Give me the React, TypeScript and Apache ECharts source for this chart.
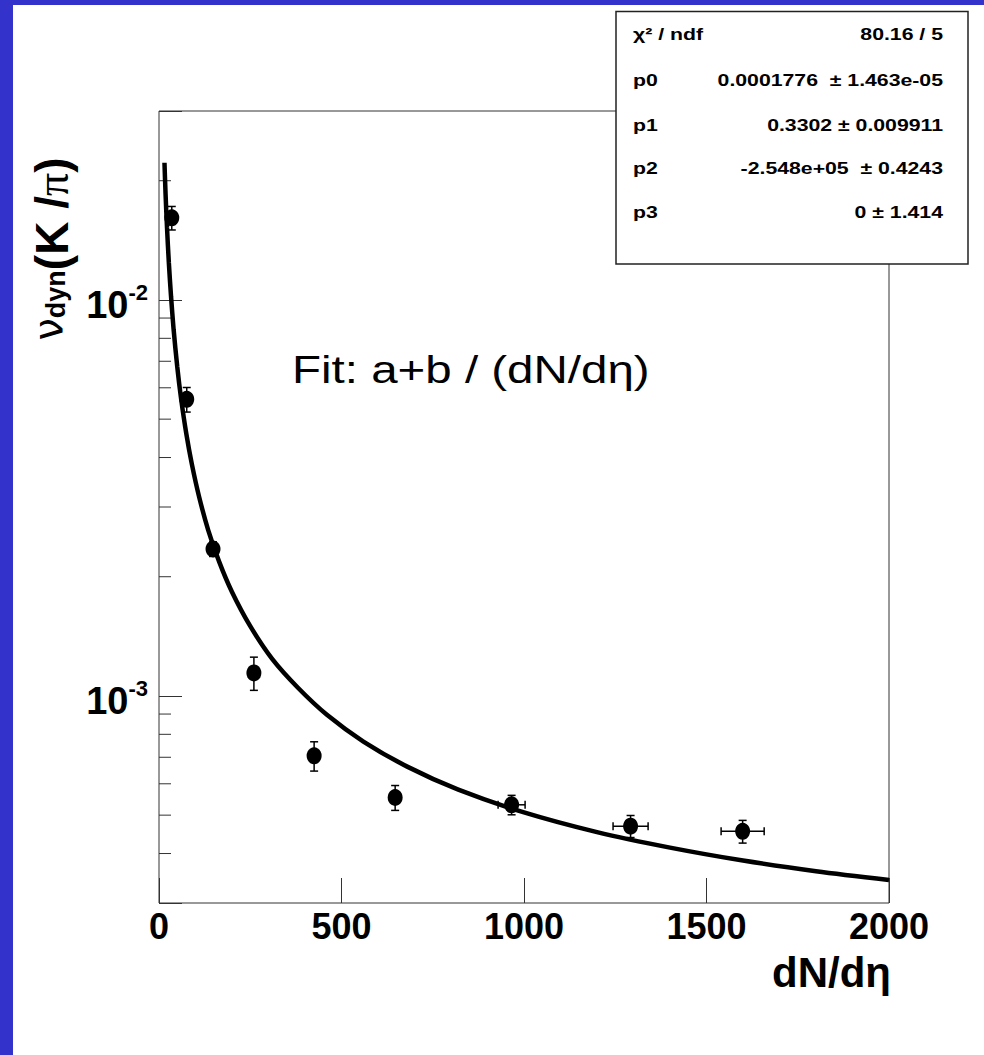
import React, { useEffect, useRef } from "react";
import * as echarts from "echarts";

// ---- data ----
const dndeta = [35, 76, 148, 260, 425, 647, 966, 1292, 1599];
const dndetaErr = [0, 0, 0, 0, 0, 0, 37, 48, 59];
const nuDyn = [0.01612, 0.00561, 0.00235, 0.001143, 0.000706, 0.000554, 0.000531, 0.000469, 0.000455];
const nuDynErr = [0.0011, 0.0004, 0.0001, 0.00011, 0.00006, 0.00004, 0.00003, 0.00003, 0.00003];

const fitX = [15, 18, 22, 27, 33, 40, 50, 60, 75, 90, 110, 135, 165, 200, 250, 310, 380, 460, 560, 680, 820, 1000, 1200, 1400, 1600, 1800, 2000];
const fitY = [0.0222, 0.0185, 0.0152, 0.0124, 0.0102, 0.00843, 0.00678, 0.00568, 0.00458, 0.00385, 0.00318, 0.00262, 0.00218, 0.00183, 0.0015, 0.00124, 0.00105, 0.000896, 0.000767, 0.000663, 0.00058, 0.000508, 0.000453, 0.000414, 0.000384, 0.000361, 0.000343];

const xTicks = [0, 500, 1000, 1500, 2000];
const yMinorTicks = [0.0004, 0.0005, 0.0006, 0.0007, 0.0008, 0.0009, 0.002, 0.003, 0.004, 0.005, 0.006, 0.007, 0.008, 0.009, 0.02];

const statLabels = ["χ² / ndf", "p0", "p1", "p2", "p3"];
const statValues = ["80.16 / 5", "0.0001776  ± 1.463e-05", "0.3302 ± 0.009911", "-2.548e+05  ± 0.4243", "0 ± 1.414"];

const fitTitle = "Fit: a+b / (dN/dη)";
const xTitle = "dN/dη";

const NARROW = '"Liberation Sans Narrow", "Arial Narrow", "Liberation Sans", Arial, sans-serif';
const SANS = '"Liberation Sans", Arial, Helvetica, sans-serif';

export default function App() {
  const ref = useRef<HTMLDivElement>(null);

  useEffect(() => {
    if (!ref.current) return;
    const chart = echarts.init(ref.current, null, { renderer: "svg" });

    const gridLeft = 159, gridTop = 111, gridW = 730, gridH = 792;

    const statGraphics: any[] = [];
    const rowY = [34, 80, 125, 168, 212];
    statLabels.forEach((l, i) => {
      statGraphics.push({
        type: "text", x: 633, y: rowY[i], z: 102, scaleX: 1.25,
        style: { text: l, fontSize: 17, fontWeight: "bold", fontFamily: SANS, fill: "#000", align: "left", verticalAlign: "middle" },
      });
      statGraphics.push({
        type: "text", x: 943, y: rowY[i], z: 102, scaleX: 1.25,
        style: { text: statValues[i], fontSize: 17, fontWeight: "bold", fontFamily: SANS, fill: "#000", align: "right", verticalAlign: "middle" },
      });
    });

    const option: any = {
      animation: false,
      backgroundColor: "#fff",
      grid: { left: gridLeft, top: gridTop, width: gridW, height: gridH, show: true, borderColor: "#333", borderWidth: 1, backgroundColor: "#fff" },
      xAxis: {
        type: "value", min: 0, max: 2000, interval: 500,
        axisLine: { show: false },
        axisTick: { show: true, inside: true, length: 25, lineStyle: { color: "#333", width: 1 } },
        axisLabel: {
          fontSize: 36, fontWeight: "bold", fontFamily: NARROW, color: "#000", margin: 5,
          formatter: (v: number) => (xTicks.indexOf(v) >= 0 ? String(v) : ""),
        },
        splitLine: { show: false },
      },
      yAxis: {
        type: "log", logBase: 10, min: 0.0003, max: 0.03,
        axisLine: { show: false },
        axisTick: { show: true, inside: true, length: 23, lineStyle: { color: "#333", width: 1 } },
        axisLabel: {
          margin: 11, color: "#000",
          formatter: (v: number) => {
            const l = Math.log10(v);
            const r = Math.round(l);
            if (Math.abs(l - r) > 1e-6) return "";
            return `{b|10}{s|${r}}`;
          },
          rich: {
            b: { fontSize: 38, fontWeight: "bold", fontFamily: NARROW, color: "#000", padding: [10, 0, 0, 0] },
            s: { fontSize: 22, fontWeight: "bold", fontFamily: NARROW, color: "#000", padding: [0, 0, 14, 0] },
          },
        },
        splitLine: { show: false },
        minorTick: { show: false },
      },
      graphic: [
        { type: "rect", shape: { x: 0, y: 0, width: 13, height: 1055 }, style: { fill: "#3333CC" }, z: 200 },
        { type: "rect", shape: { x: 0, y: 0, width: 984, height: 5 }, style: { fill: "#3333CC" }, z: 200 },
        { type: "rect", shape: { x: 616, y: 11.5, width: 352, height: 252.5 }, style: { fill: "#fff", stroke: "#222", lineWidth: 1.5 }, z: 101 },
        ...statGraphics,
        {
          type: "text", x: 292, y: 370, z: 100, scaleX: 1.25,
          style: { text: fitTitle, fontSize: 38, fontFamily: SANS, fill: "#000", align: "left", verticalAlign: "middle" },
        },
        {
          type: "text", x: 891, y: 972, z: 100,
          style: { text: xTitle, fontSize: 42, fontWeight: "bold", fontFamily: SANS, fill: "#000", align: "right", verticalAlign: "middle" },
        },
        {
          type: "text", x: 52, y: 249, z: 100, rotation: Math.PI / 2,
          style: {
            text: "{nu|ν}{sub|dyn}{m|(K /}{pi|π}{m|)}",
            align: "center", verticalAlign: "middle",
            rich: {
              nu: { fontSize: 40, fontFamily: '"DejaVu Sans", sans-serif', fill: "#000", padding: [0, 0, 8, 0] },
              sub: { fontSize: 27, fontWeight: "bold", fontFamily: SANS, fill: "#000", padding: [7, 0, 0, 0] },
              m: { fontSize: 46, fontWeight: "bold", fontFamily: SANS, fill: "#000" },
              pi: { fontSize: 46, fontFamily: '"Liberation Serif", "Times New Roman", serif', fill: "#000" },
            },
          },
        },
      ],
      series: [
        {
          type: "custom",
          name: "minorTicks",
          coordinateSystem: "cartesian2d",
          data: yMinorTicks.map((v) => [0, v]),
          encode: { x: 0, y: 1 },
          silent: true,
          z: 3,
          renderItem: (params: any, api: any) => {
            const p = api.coord([0, api.value(1)]);
            return { type: "line", shape: { x1: p[0], y1: p[1], x2: p[0] + 12, y2: p[1] }, style: { stroke: "#333", lineWidth: 1 } };
          },
        },
        {
          type: "line",
          name: "fit",
          data: fitX.map((x, i) => [x, fitY[i]]),
          showSymbol: false,
          smooth: 0.3,
          lineStyle: { color: "#000", width: 4.5 },
          z: 4,
        },
        {
          type: "custom",
          name: "errors",
          coordinateSystem: "cartesian2d",
          data: dndeta.map((x, i) => [x, nuDyn[i], dndetaErr[i], nuDynErr[i]]),
          encode: { x: 0, y: 1 },
          z: 5,
          renderItem: (params: any, api: any) => {
            const x = api.value(0), y = api.value(1), ex = api.value(2), ey = api.value(3);
            const st = { stroke: "#000", lineWidth: 1.5 };
            const children: any[] = [];
            const lo = api.coord([x, y - ey]);
            const hi = api.coord([x, y + ey]);
            children.push({ type: "line", shape: { x1: lo[0], y1: lo[1], x2: hi[0], y2: hi[1] }, style: st });
            children.push({ type: "line", shape: { x1: lo[0] - 4, y1: lo[1], x2: lo[0] + 4, y2: lo[1] }, style: st });
            children.push({ type: "line", shape: { x1: hi[0] - 4, y1: hi[1], x2: hi[0] + 4, y2: hi[1] }, style: st });
            if (ex > 0) {
              const l = api.coord([x - ex, y]);
              const r = api.coord([x + ex, y]);
              children.push({ type: "line", shape: { x1: l[0], y1: l[1], x2: r[0], y2: r[1] }, style: st });
              children.push({ type: "line", shape: { x1: l[0], y1: l[1] - 4, x2: l[0], y2: l[1] + 4 }, style: st });
              children.push({ type: "line", shape: { x1: r[0], y1: r[1] - 4, x2: r[0], y2: r[1] + 4 }, style: st });
            }
            return { type: "group", children };
          },
        },
        {
          type: "scatter",
          name: "data",
          data: dndeta.map((x, i) => [x, nuDyn[i]]),
          symbol: "circle",
          symbolSize: [15, 17],
          itemStyle: { color: "#000", opacity: 1 },
          z: 6,
        },
      ],
    };

    chart.setOption(option);
    return () => chart.dispose();
  }, []);

  return <div ref={ref} style={{ position: "absolute", left: 0, top: 0, width: 984, height: 1055 }} />;
}
